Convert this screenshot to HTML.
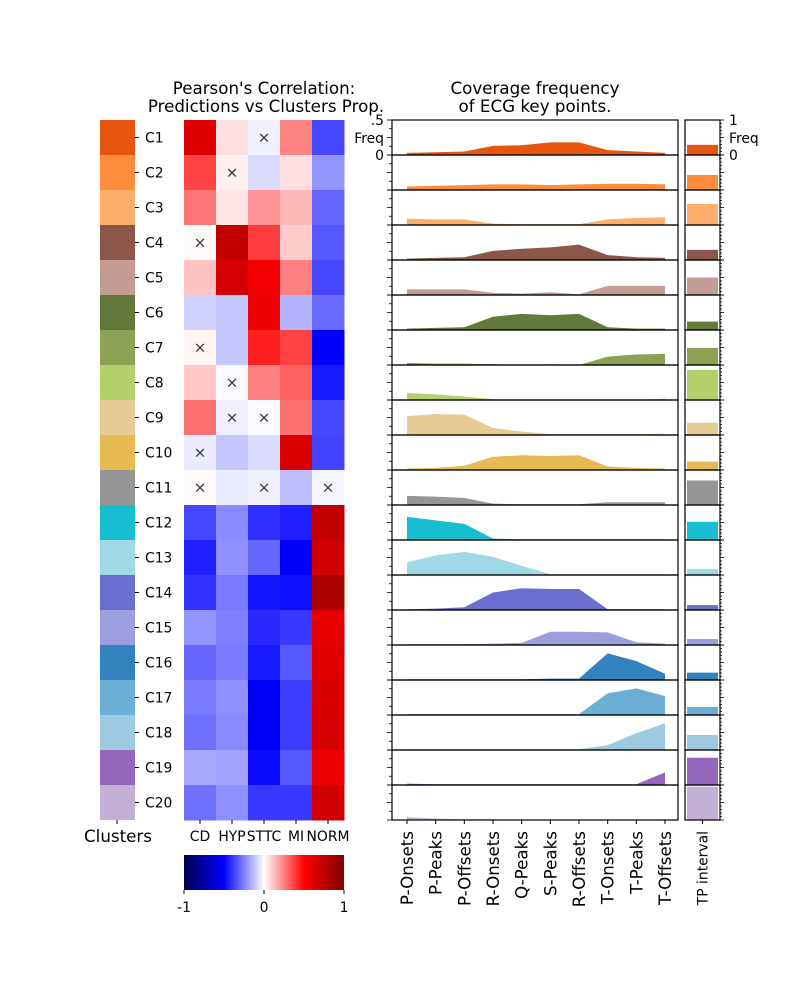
<!DOCTYPE html>
<html><head><meta charset="utf-8"><style>
body{margin:0;background:#fff;}
svg{display:block;font-family:"DejaVu Sans","Liberation Sans",sans-serif;}
</style></head><body>
<svg id="fig" width="800" height="1000" viewBox="0 0 800 1000">
<text x="264" y="94" font-size="16.7" text-anchor="middle">Pearson's Correlation:</text>
<text x="266" y="112" font-size="16.7" text-anchor="middle">Predictions vs Clusters Prop.</text>
<text x="535" y="94" font-size="16.7" text-anchor="middle">Coverage frequency</text>
<text x="535" y="112" font-size="16.7" text-anchor="middle">of ECG key points.</text>
<text x="118" y="842" font-size="16.7" text-anchor="middle">Clusters</text>
<g id="g"></g>
</svg>
<script>
const clusters=["C1","C2","C3","C4","C5","C6","C7","C8","C9","C10","C11","C12","C13","C14","C15","C16","C17","C18","C19","C20"];
const clusterColors=["#e6550d","#fd8d3c","#fdae6b","#8c564b","#c49c94","#637939","#8ca252","#b5cf6b","#e7cb94","#e7ba52","#969696","#17becf","#9edae5","#6b6ecf","#9c9ede","#3182bd","#6baed6","#9ecae1","#9467bd","#c5b0d5"];
const classes=["CD","HYP","STTC","MI","NORM"];
const corr=[
[0.63,0.06,-0.03,0.24,-0.36],
[0.37,0.03,-0.07,0.06,-0.21],
[0.27,0.05,0.21,0.14,-0.30],
[0.01,0.74,0.38,0.10,-0.33],
[0.12,0.66,0.54,0.25,-0.36],
[-0.09,-0.11,0.56,-0.15,-0.29],
[0.02,-0.11,0.44,0.37,-0.50],
[0.11,-0.01,0.25,0.31,-0.45],
[0.28,-0.03,-0.01,0.28,-0.36],
[-0.04,-0.11,-0.07,0.64,-0.37],
[0.01,-0.04,-0.03,-0.13,-0.02],
[-0.36,-0.23,-0.41,-0.44,0.74],
[-0.44,-0.22,-0.30,-0.51,0.68],
[-0.40,-0.26,-0.46,-0.47,0.83],
[-0.21,-0.25,-0.42,-0.39,0.60],
[-0.30,-0.26,-0.45,-0.33,0.62],
[-0.26,-0.22,-0.51,-0.38,0.64],
[-0.28,-0.23,-0.53,-0.38,0.66],
[-0.17,-0.18,-0.48,-0.33,0.56],
[-0.28,-0.22,-0.39,-0.39,0.68]];
const notSignificant=[[0,2],[1,1],[3,0],[6,0],[7,1],[8,1],[8,2],[9,0],[10,0],[10,2],[10,4]];
const keyPoints=["P-Onsets","P-Peaks","P-Offsets","R-Onsets","Q-Peaks","S-Peaks","R-Offsets","T-Onsets","T-Peaks","T-Offsets"];
const freq=[
[0.03,0.04,0.05,0.13,0.14,0.18,0.18,0.07,0.05,0.03],
[0.05,0.06,0.07,0.08,0.08,0.07,0.08,0.09,0.09,0.08],
[0.09,0.08,0.08,0.02,0.01,0.01,0.01,0.08,0.10,0.11],
[0.02,0.03,0.04,0.13,0.16,0.18,0.22,0.07,0.04,0.03],
[0.08,0.08,0.08,0.03,0.02,0.04,0.01,0.13,0.13,0.13],
[0.02,0.03,0.04,0.19,0.23,0.21,0.23,0.04,0.02,0.02],
[0.03,0.02,0.02,0.01,0.00,0.01,0.00,0.12,0.15,0.16],
[0.10,0.08,0.05,0.01,0.00,0.00,0.00,0.00,0.00,0.02],
[0.27,0.30,0.29,0.10,0.05,0.01,0.01,0.01,0.01,0.02],
[0.02,0.03,0.06,0.19,0.21,0.20,0.21,0.05,0.03,0.02],
[0.13,0.12,0.10,0.02,0.01,0.01,0.01,0.04,0.04,0.04],
[0.33,0.28,0.23,0.02,0.01,0.01,0.01,0.01,0.01,0.01],
[0.18,0.28,0.33,0.26,0.13,0.01,0.01,0.01,0.01,0.01],
[0.01,0.02,0.04,0.25,0.31,0.30,0.30,0.01,0.01,0.01],
[0.01,0.01,0.01,0.02,0.03,0.19,0.19,0.18,0.04,0.02],
[0.01,0.01,0.01,0.01,0.01,0.02,0.02,0.38,0.27,0.09],
[0.01,0.01,0.01,0.01,0.01,0.01,0.01,0.31,0.38,0.27],
[0.01,0.01,0.01,0.01,0.01,0.01,0.01,0.07,0.24,0.38],
[0.02,0.01,0.01,0.01,0.01,0.01,0.01,0.01,0.01,0.18],
[0.04,0.02,0.01,0.01,0.00,0.00,0.00,0.00,0.00,0.01]];
const tpFreq=[0.29,0.43,0.60,0.29,0.50,0.24,0.49,0.86,0.35,0.24,0.70,0.52,0.17,0.14,0.17,0.21,0.23,0.43,0.78,0.95];

const NS="http://www.w3.org/2000/svg";
const G=document.getElementById('g');
function mk(tag,attrs,parent){const e=document.createElementNS(NS,tag);for(const k in attrs)e.setAttribute(k,attrs[k]);(parent||G).appendChild(e);return e;}
function seismic(v){let r,g,b;
 if(v<=-0.5){const t=(v+1)/0.5;r=0;g=0;b=0.3+0.7*t;}
 else if(v<=0){const t=(v+0.5)/0.5;r=t;g=t;b=1;}
 else if(v<=0.5){const t=v/0.5;r=1;g=1-t;b=1-t;}
 else{const t=(v-0.5)/0.5;r=1-0.5*t;g=0;b=0;}
 return `rgb(${Math.round(r*255)},${Math.round(g*255)},${Math.round(b*255)})`;}
const top0=120,rowH=35;
const rowY=i=>top0+i*rowH;
const hx0=184,colW=32;
const colX=j=>hx0+j*colW;
const ax0=392,ax1=678,px0=407,px1=665;
const ptX=k=>px0+k*(px1-px0)/(keyPoints.length-1);
const fy=(i,v)=>rowY(i)+rowH-v/0.5*rowH;
const tx0=685,tx1=720;
const ty=(i,v)=>rowY(i)+rowH-v*rowH;

clusters.forEach((c,i)=>{
 const y=rowY(i);
 let e=mk('rect',{x:100,y:y,width:35,height:rowH,fill:clusterColors[i]});
 
 
 mk('line',{x1:135,x2:139,y1:y+rowH/2,y2:y+rowH/2,stroke:'#000','stroke-width':1});
 e=mk('text',{x:145,y:y+rowH/2+5,'font-size':13.9});e.textContent=c;
 
 
 classes.forEach((k,j)=>{
  const r=mk('rect',{x:colX(j),y:y,width:colW+0.5,height:rowH+0.5,fill:seismic(corr[i][j])});
  
  
 });
 const pts=[[ptX(0),fy(i,0)]];
 freq[i].forEach((v,k)=>pts.push([ptX(k),fy(i,v)]));
 pts.push([ptX(keyPoints.length-1),fy(i,0)]);
 e=mk('polygon',{points:pts.map(p=>p.join(',')).join(' '),fill:clusterColors[i]});
 
 
 e=mk('rect',{x:ax0,y:y,width:ax1-ax0,height:rowH,fill:'none',stroke:'#000','stroke-width':1.2});
 
 
 for(let t=0;t<=4;t++){const v=t*0.125;const yy=fy(i,v);const L=(t%2==0)?5:3;
  mk('line',{x1:ax0-L,x2:ax0,y1:yy,y2:yy,stroke:'#000','stroke-width':0.8});}
 e=mk('rect',{x:tx0+2,y:ty(i,tpFreq[i]),width:tx1-tx0-4,height:tpFreq[i]*rowH,fill:clusterColors[i]});
 
 
 e=mk('rect',{x:tx0,y:y,width:tx1-tx0,height:rowH,fill:'none',stroke:'#000','stroke-width':1.2});
 
 
 for(let t=0;t<=10;t++){const yy=ty(i,t/10);const L=(t%5==0)?4:2;
  mk('line',{x1:tx1,x2:tx1+L,y1:yy,y2:yy,stroke:'#000','stroke-width':0.8});}
});
notSignificant.forEach(([i,j])=>{
 const e=mk('text',{x:colX(j)+colW/2,y:rowY(i)+rowH/2+5,'font-size':15,'text-anchor':'middle',fill:'#333'});
 e.textContent='×';
 
 
});
classes.forEach((k,j)=>{
 const x=colX(j)+colW/2;
 mk('line',{x1:x,x2:x,y1:820,y2:824,stroke:'#000'});
 const e=mk('text',{x:x,y:841,'font-size':13.9,'text-anchor':'middle'});e.textContent=k;
 
 
});
mk('line',{x1:117,x2:117,y1:820,y2:824,stroke:'#000'});
[['.5',125],['Freq',143],['0',160]].forEach(([t,y])=>{const e=mk('text',{x:384,y:y,'font-size':13.9,'text-anchor':'end'});e.textContent=t;
 
 });
[['1',125],['Freq',143],['0',160]].forEach(([t,y])=>{const e=mk('text',{x:729,y:y,'font-size':13.9});e.textContent=t;
 
 });
keyPoints.forEach((k,i)=>{
 const x=ptX(i);
 mk('line',{x1:x,x2:x,y1:820,y2:824,stroke:'#000'});
 const e=mk('text',{x:0,y:0,'font-size':16.7,'text-anchor':'end',transform:`translate(${x+6},831) rotate(-90)`});
 e.textContent=k;
 
 
});
mk('line',{x1:702.5,x2:702.5,y1:820,y2:824,stroke:'#000'});
let e=mk('text',{x:0,y:0,'font-size':13.9,'text-anchor':'end',transform:'translate(707.5,831) rotate(-90)'});e.textContent='TP interval';


const defs=mk('defs',{});
const lg=mk('linearGradient',{id:'cb',x1:0,x2:1,y1:0,y2:0},defs);
for(let s=0;s<=40;s++){const v=-1+s/20;mk('stop',{offset:(s/40),'stop-color':seismic(v)},lg);}
e=mk('rect',{x:184,y:855,width:160,height:35,fill:'url(#cb)'});


[[-1,'-1'],[0,'0'],[1,'1']].forEach(([v,t])=>{const x=184+(v+1)/2*160;
 mk('line',{x1:x,x2:x,y1:890,y2:894,stroke:'#000'});
 const e=mk('text',{x:x,y:912,'font-size':13.9,'text-anchor':'middle'});e.textContent=t;
 
 });
</script>
</body></html>
